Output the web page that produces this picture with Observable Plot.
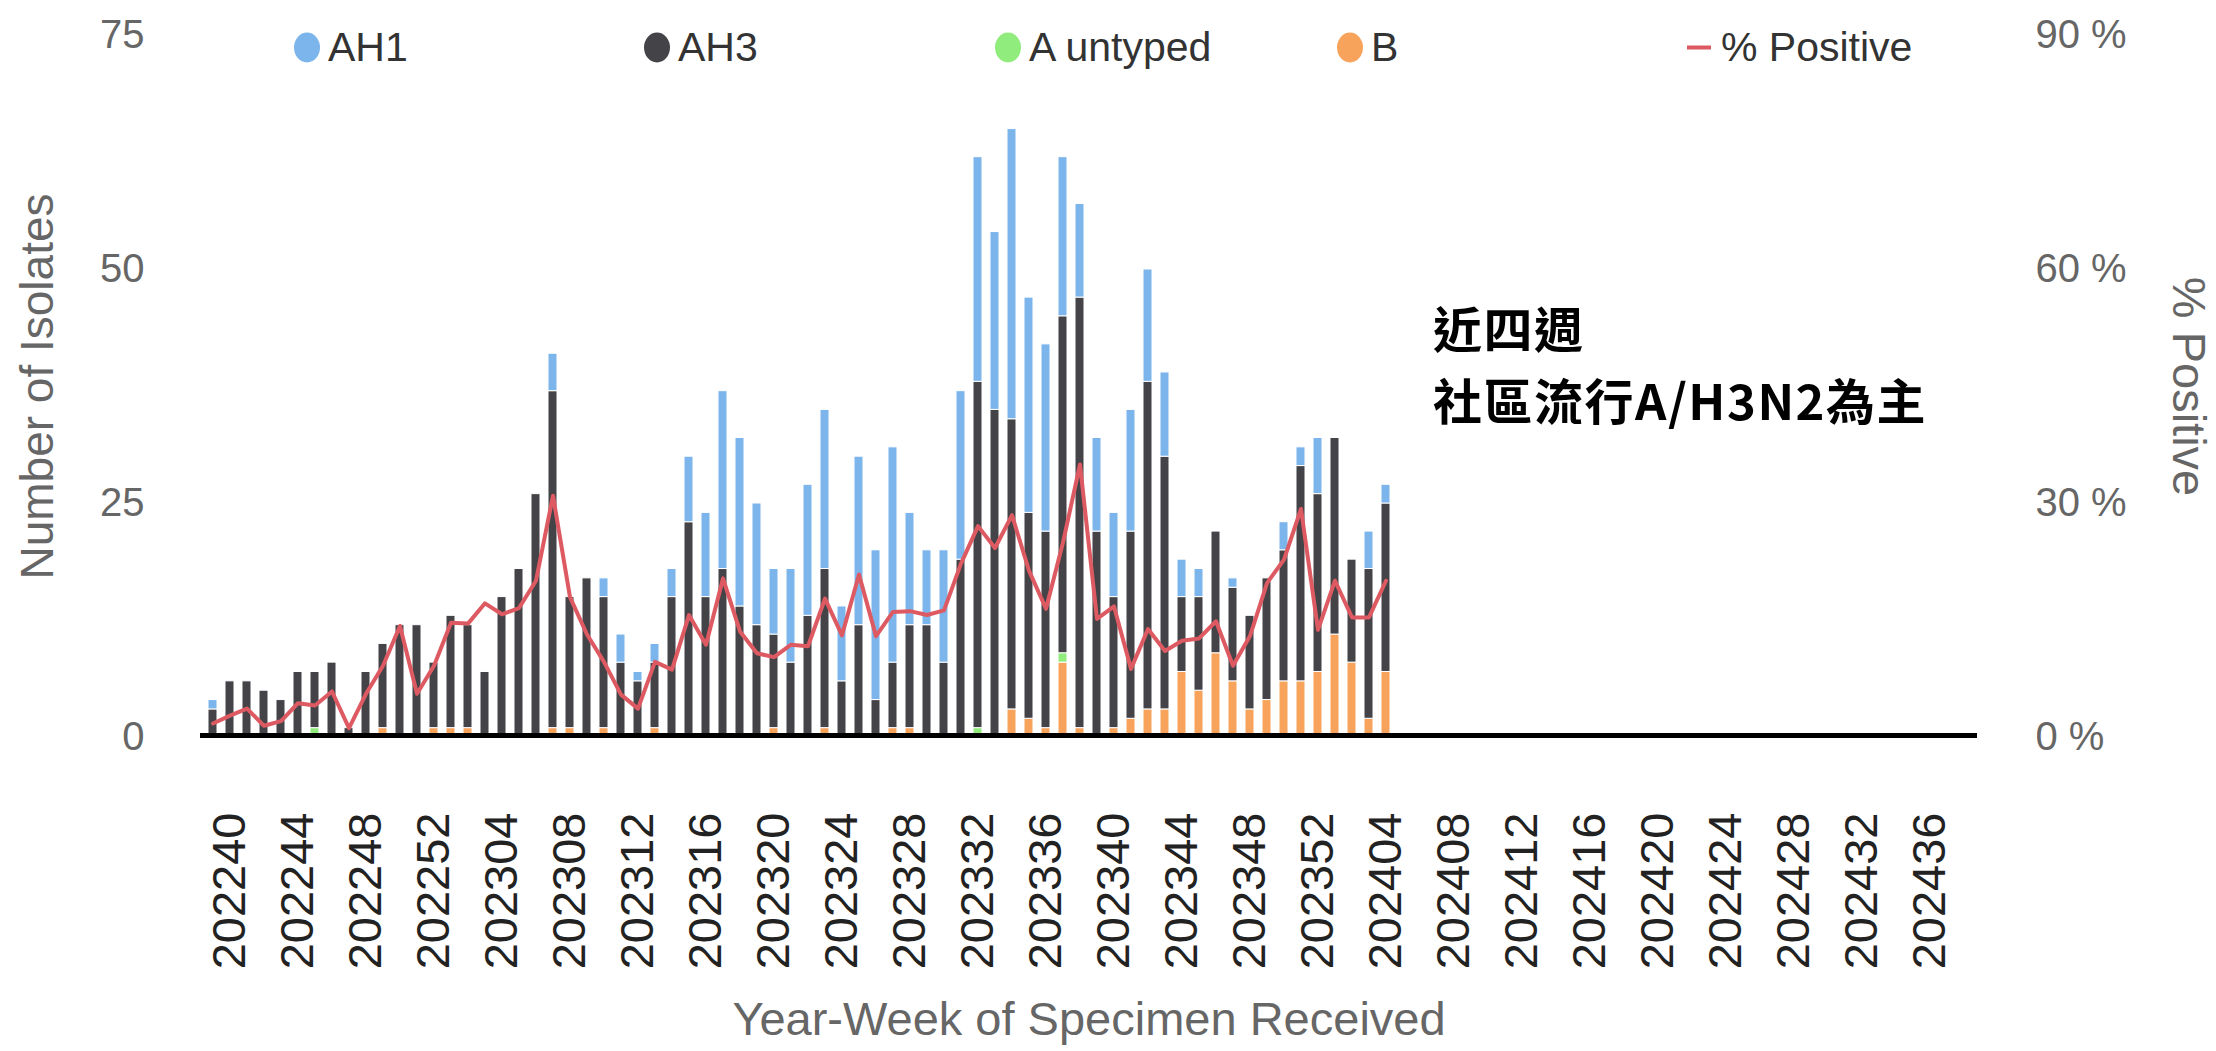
<!DOCTYPE html>
<html>
<head>
<meta charset="utf-8">
<script src="https://cdn.jsdelivr.net/npm/d3@7"></script>
<script src="https://cdn.jsdelivr.net/npm/@observablehq/plot@0.6"></script>
<style>
  body { margin: 0; background: #fff; }
  #wrap { position: relative; width: 2216px; height: 1051px; overflow: hidden; }
  #legend { position: absolute; left: 0; top: 0; width: 2216px; height: 95px;
            font-family: "Liberation Sans", Arial, sans-serif; font-size: 41px; color: #333; }
  .item { position: absolute; top: 47px; transform: translateY(-50%); display: flex; align-items: center; white-space: nowrap; }
  .dot { width: 26px; height: 30px; border-radius: 50%; margin-right: 8px; }
  .ln { width: 24px; height: 4px; margin-right: 10px; }
</style>
</head>
<body>
<div id="wrap"><div id="legend"></div></div>
<script>
// ---- data ----
const weeks = [
  "202239","202240","202241","202242","202243","202244","202245","202246","202247","202248",
  "202249","202250","202251","202252","202301","202302","202303","202304","202305","202306",
  "202307","202308","202309","202310","202311","202312","202313","202314","202315","202316",
  "202317","202318","202319","202320","202321","202322","202323","202324","202325","202326",
  "202327","202328","202329","202330","202331","202332","202333","202334","202335","202336",
  "202337","202338","202339","202340","202341","202342","202343","202344","202345","202346",
  "202347","202348","202349","202350","202351","202352","202401","202402","202403","202404"
];
const B = [
  0,0,0,0,0,0,0,0,0,0,
  1,0,0,1,1,1,0,0,0,0,
  1,1,0,1,0,0,1,0,0,0,
  0,0,0,1,0,0,1,0,0,0,
  1,1,0,0,0,0,0,3,2,1,
  8,1,0,1,2,3,3,7,5,9,
  6,3,4,6,6,7,11,8,2,7
];
const AUntyped = [
  0,0,0,0,0,0,1,0,0,0,
  0,0,0,0,0,0,0,0,0,0,
  0,0,0,0,0,0,0,0,0,0,
  0,0,0,0,0,0,0,0,0,0,
  0,0,0,0,0,1,0,0,0,0,
  1,0,0,0,0,0,0,0,0,0,
  0,0,0,0,0,0,0,0,0,0
];
const AH3 = [
  3,6,6,5,4,7,6,8,1,7,
  9,12,12,7,12,11,7,15,18,26,
  36,14,17,14,8,6,7,15,23,15,
  18,14,12,10,8,13,17,6,12,4,
  7,11,12,8,19,37,35,31,22,21,
  36,46,22,14,20,35,27,8,10,13,
  10,10,13,14,23,19,21,11,16,18
];
const AH1 = [
  1,0,0,0,0,0,0,0,0,0,
  0,0,0,0,0,0,0,0,0,0,
  4,0,0,2,3,1,2,3,7,9,
  19,18,13,7,10,14,17,8,18,16,
  23,12,8,12,18,24,19,31,23,20,
  17,10,10,9,13,12,9,4,3,0,
  1,0,0,3,2,6,0,0,4,2
];
const pctPositive = [
  1.8,2.8,3.7,1.5,2.1,4.4,4.1,5.9,1.2,5.6,
  9.2,14.3,5.6,9.2,14.7,14.6,17.2,15.8,16.6,20.1,
  31.0,18.0,13.2,9.7,5.5,3.7,9.7,8.7,15.7,11.9,
  20.4,13.6,10.8,10.3,11.9,11.7,17.8,13.1,20.9,13.0,
  16.1,16.2,15.7,16.3,22.3,27.1,24.3,28.5,21.4,16.5,
  25.0,35.0,15.2,16.8,8.8,13.9,11.1,12.4,12.7,14.9,
  9.2,13.0,19.8,22.8,29.3,13.8,20.1,15.4,15.4,20.1
];
const tickWeeks = [
  "202240","202244","202248","202252","202304","202308","202312","202316","202320","202324",
  "202328","202332","202336","202340","202344","202348","202352","202404","202408","202412",
  "202416","202420","202424","202428","202432","202436"
];
const leftTicks = [0, 25, 50, 75];
const rightTickLabels = ["0 %", "30 %", "60 %", "90 %"];
const seriesNames = ["B", "A untyped", "AH3", "AH1"];        // stacking order (bottom → top)
const legendNames = ["AH1", "AH3", "A untyped", "B", "% Positive"];
const colors = { "AH1": "#7cb5ec", "AH3": "#434348", "A untyped": "#90ed7d", "B": "#f7a35c", "% Positive": "#de5a62" };
const annotationLines = ["近四週", "社區流行A/H3N2為主"];
const annotationWeek = ["202407", "202407"];
const annotationValue = [43.3, 35.6];

// axis categories: data weeks followed by the remaining (empty) weeks of the season
const domainWeeks = weeks.slice();
for (let w = 5; w <= 38; w++) domainWeeks.push("2024" + String(w).padStart(2, "0"));

// ---- tables ----
const seriesArrays = { "B": B, "A untyped": AUntyped, "AH3": AH3, "AH1": AH1 };
const rows = [];
weeks.forEach((wk, i) => {
  for (const s of seriesNames) {
    const v = seriesArrays[s][i];
    if (v > 0) rows.push({ week: wk, type: s, n: v });
  }
});
const posRows = weeks.map((wk, i) => ({ week: wk, p: pctPositive[i] }));
const annRows = annotationLines.map((t, i) => ({ week: annotationWeek[i], v: annotationValue[i], t }));

const font = "Liberation Sans, Arial, sans-serif";

const chart = Plot.plot({
  width: 2216,
  height: 1051,
  marginLeft: 200,
  marginRight: 239,
  marginTop: 35,
  marginBottom: 314,
  style: { fontFamily: font, background: "white", overflow: "visible" },
  x: { type: "band", domain: domainWeeks, paddingInner: 0.45, paddingOuter: 0.22, axis: null },
  y: { domain: [0, 75], axis: null },
  color: { domain: seriesNames, range: seriesNames.map(s => colors[s]) },
  marks: [
    Plot.barY(rows, { x: "week", y: "n", fill: "type", stroke: "white", strokeWidth: 1 }),
    Plot.ruleY([0], { stroke: "black", strokeWidth: 5, dy: -2 }),
    Plot.line(posRows, { x: "week", y: d => d.p / 1.2, stroke: colors["% Positive"], strokeWidth: 4, curve: "linear" }),
    Plot.axisX({ ticks: tickWeeks, tickRotate: -90, tickSize: 0, tickPadding: 75, fontSize: 47, label: null, color: "#222" }),
    Plot.axisY({ anchor: "left", ticks: leftTicks, tickSize: 0, tickPadding: 56, fontSize: 40, label: null, color: "#666" }),
    Plot.axisY({ anchor: "right", ticks: leftTicks, tickFormat: (d, i) => rightTickLabels[i], tickSize: 0, tickPadding: 58, fontSize: 40, label: null, color: "#666" }),
    Plot.text(["Year-Week of Specimen Received"], { frameAnchor: "bottom", dy: 297, fontSize: 47, fill: "#666" }),
    Plot.text(["Number of Isolates"], { frameAnchor: "left", textAnchor: "middle", rotate: -90, dx: -162, fontSize: 46, fill: "#666" }),
    Plot.text(["% Positive"], { frameAnchor: "right", textAnchor: "middle", rotate: 90, dx: 211, fontSize: 47, fill: "#666" }),
    Plot.text(annRows, { x: "week", y: "v", text: "t", textAnchor: "start", dx: -4,
      fontSize: 49, fontWeight: "bold", fontFamily: "Noto Sans CJK TC", fill: "black" })
  ]
});
// slight letter spacing on the annotation to keep its width with the smaller font
d3.select(chart).selectAll('g[font-family="Noto Sans CJK TC"] text').attr("letter-spacing", "1.5px");
document.getElementById("wrap").appendChild(chart);

// ---- legend (HTML, on top of the svg) ----
const legendX = [307, 657, 1008, 1350, 1700];
const legend = document.getElementById("legend");
legendNames.forEach((name, i) => {
  const it = document.createElement("div");
  it.className = "item";
  it.style.left = legendX[i] - 13 + "px";
  const sw = document.createElement("span");
  sw.className = name === "% Positive" ? "ln" : "dot";
  sw.style.background = colors[name];
  it.appendChild(sw);
  const tx = document.createElement("span");
  tx.textContent = name;
  it.appendChild(tx);
  legend.appendChild(it);
});
</script>
</body>
</html>
